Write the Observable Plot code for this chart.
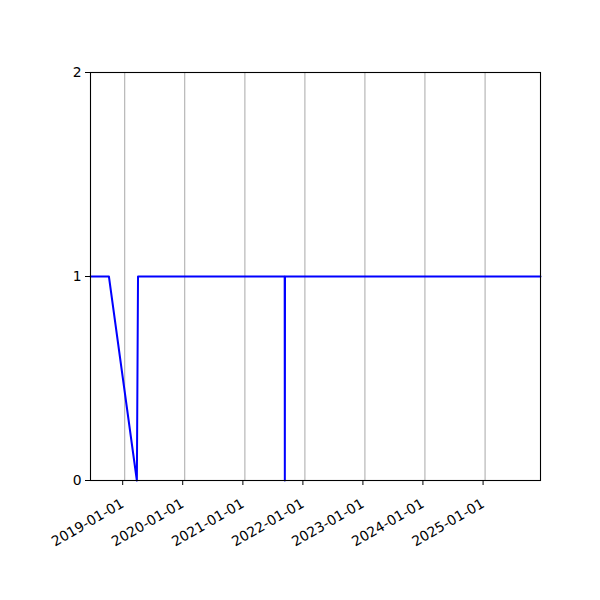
<!DOCTYPE html>
<html>
<head>
<meta charset="utf-8">
<script src="https://cdn.jsdelivr.net/npm/d3@7"></script>
<script src="https://cdn.jsdelivr.net/npm/@observablehq/plot@0.6"></script>
<style>
  html, body { margin: 0; padding: 0; background: white; }
</style>
</head>
<body>
<div id="chart"></div>
<script>
const dates = ["2018-06-07", "2018-09-27", "2019-03-16", "2019-03-23", "2021-08-31", "2021-09-01", "2021-09-02", "2025-12-04"];
const values = [1, 1, 0, 1, 1, 0, 1, 1];
const xTickLabels = ["2019-01-01", "2020-01-01", "2021-01-01", "2022-01-01", "2023-01-01", "2024-01-01", "2025-01-01"];
const yTicks = [0, 1, 2];

const data = dates.map((d, i) => ({date: new Date(d), value: values[i]}));
const xTicks = xTickLabels.map(s => new Date(s));
const fmt = d3.utcFormat("%Y-%m-%d");

const chart = Plot.plot({
  width: 600,
  height: 600,
  marginLeft: 90,
  marginRight: 60,
  marginTop: 72,
  marginBottom: 120,
  style: {fontFamily: "DejaVu Sans, sans-serif", fontSize: "13.9px", background: "white", color: "black"},
  x: {type: "utc", domain: [data[0].date, data[data.length - 1].date]},
  y: {domain: [0, 2]},
  marks: [
    Plot.gridX(xTicks, {stroke: "#b0b0b0", strokeOpacity: 1, strokeWidth: 1.1}),
    Plot.line(data, {x: "date", y: "value", stroke: "#0000ff", strokeWidth: 2}),
    Plot.axisX(xTicks, {tickFormat: fmt, tickRotate: -30, tickSize: 5, tickPadding: 17, dx: -2, label: null, textAnchor: "end", fontSize: 13.9}),
    Plot.axisY(yTicks, {tickFormat: d3.format("d"), tickSize: 5, tickPadding: 4, label: null, fontSize: 13.9}),
    Plot.frame({stroke: "black", strokeWidth: 1.1})
  ]
});
document.getElementById("chart").appendChild(chart);
</script>
</body>
</html>
